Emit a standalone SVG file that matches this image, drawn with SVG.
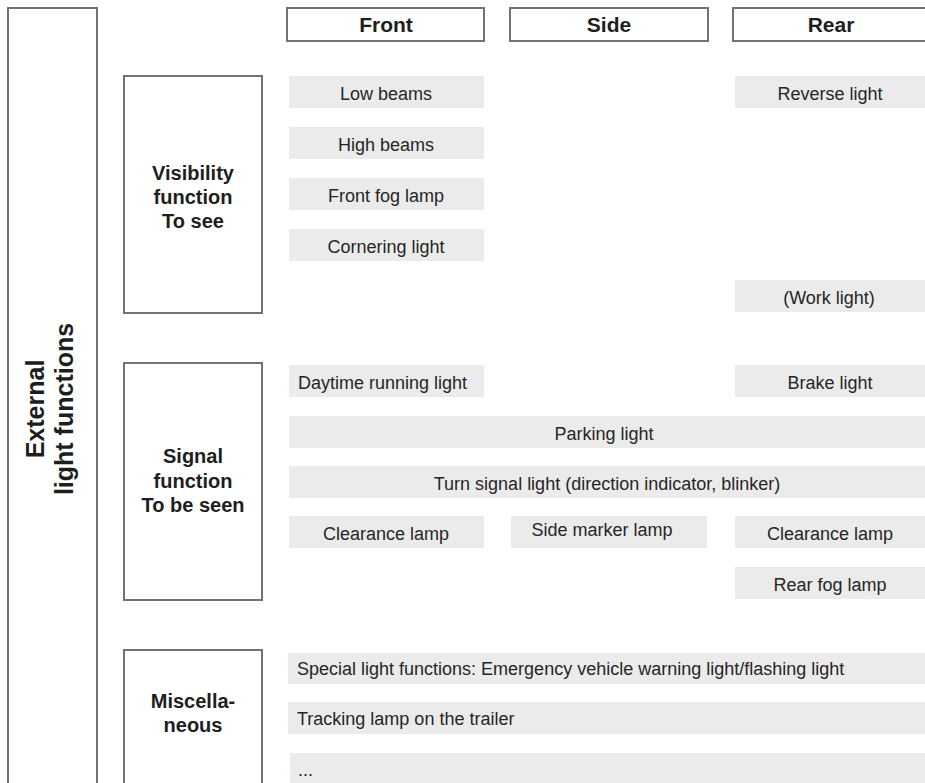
<svg xmlns="http://www.w3.org/2000/svg" width="925" height="783" viewBox="0 0 925 783">
<style>
.frame{fill:#fff;stroke:#737373;stroke-width:2}
.item{fill:#ebebeb}
.t{font-family:"Liberation Sans",Arial,sans-serif;font-size:18px;fill:#262626}
.c{text-anchor:middle}
.b{font-family:"Liberation Sans",Arial,sans-serif;font-weight:bold;font-size:20px;fill:#1e1e1e;text-anchor:middle}
.h{font-family:"Liberation Sans",Arial,sans-serif;font-weight:bold;font-size:21px;fill:#1e1e1e;text-anchor:middle}
.big{font-family:"Liberation Sans",Arial,sans-serif;font-weight:bold;font-size:25px;fill:#1e1e1e;text-anchor:middle}
</style>
<rect width="925" height="783" fill="#fff"/>
<g id="external">
<rect class="frame" x="8" y="8" width="89" height="800"/>
<text class="big" transform="translate(44,409) rotate(-90)">External</text>
<text class="big" transform="translate(73,409) rotate(-90)">light functions</text>
</g>
<g id="header-front"><rect class="frame" x="287" y="8" width="197" height="33"/><text class="h" x="386" y="32">Front</text></g>
<g id="header-side"><rect class="frame" x="510" y="8" width="198" height="33"/><text class="h" x="609" y="32">Side</text></g>
<g id="header-rear"><rect class="frame" x="733" y="8" width="200" height="33"/><text class="h" x="831" y="32">Rear</text></g>
<g id="visibility">
<rect class="frame" x="124" y="76" width="138" height="237"/>
<text class="b" x="193" y="180">Visibility</text>
<text class="b" x="193" y="204">function</text>
<text class="b" x="193" y="228">To see</text>
</g>
<g id="signal">
<rect class="frame" x="124" y="363" width="138" height="237"/>
<text class="b" x="193" y="463">Signal</text>
<text class="b" x="193" y="488">function</text>
<text class="b" x="193" y="512">To be seen</text>
</g>
<g id="misc">
<rect class="frame" x="124" y="650" width="138" height="160"/>
<text class="b" x="193" y="708">Miscella-</text>
<text class="b" x="193" y="732">neous</text>
</g>
<g id="low-beams"><rect class="item" x="289" y="76" width="195" height="32"/><text class="t c" x="386" y="99.5">Low beams</text></g>
<g id="reverse-light"><rect class="item" x="735" y="76" width="190" height="32"/><text class="t c" x="830" y="99.5">Reverse light</text></g>
<g id="high-beams"><rect class="item" x="289" y="127" width="195" height="32"/><text class="t c" x="386" y="150.5">High beams</text></g>
<g id="front-fog"><rect class="item" x="289" y="178" width="195" height="32"/><text class="t c" x="386" y="201.5">Front fog lamp</text></g>
<g id="cornering"><rect class="item" x="289" y="229" width="195" height="32"/><text class="t c" x="386" y="252.5">Cornering light</text></g>
<g id="work-light"><rect class="item" x="735" y="280" width="190" height="32"/><text class="t c" x="829" y="303.5">(Work light)</text></g>
<g id="drl"><rect class="item" x="289" y="365" width="195" height="32"/><text class="t" x="298" y="388.5">Daytime running light</text></g>
<g id="brake"><rect class="item" x="735" y="365" width="190" height="32"/><text class="t c" x="830" y="388.5">Brake light</text></g>
<g id="parking"><rect class="item" x="289" y="416" width="636" height="32"/><text class="t c" x="604" y="439.5">Parking light</text></g>
<g id="turn"><rect class="item" x="289" y="466" width="636" height="32"/><text class="t c" x="607" y="489.5">Turn signal light (direction indicator, blinker)</text></g>
<g id="clearance-front"><rect class="item" x="289" y="516" width="195" height="32"/><text class="t c" x="386" y="539.5">Clearance lamp</text></g>
<g id="side-marker"><rect class="item" x="511" y="516" width="196" height="32"/><text class="t c" x="602" y="536">Side marker lamp</text></g>
<g id="clearance-rear"><rect class="item" x="735" y="516" width="190" height="32"/><text class="t c" x="830" y="539.5">Clearance lamp</text></g>
<g id="rear-fog"><rect class="item" x="735" y="567" width="190" height="32"/><text class="t c" x="830" y="590.5">Rear fog lamp</text></g>
<g id="special"><rect class="item" x="288" y="653" width="637" height="31"/><text class="t" x="297" y="675">Special light functions: Emergency vehicle warning light/flashing light</text></g>
<g id="tracking"><rect class="item" x="288" y="702" width="637" height="32"/><text class="t" x="297" y="725">Tracking lamp on the trailer</text></g>
<g id="more"><rect class="item" x="290" y="753" width="635" height="40"/><text class="t" x="298" y="776">...</text></g>
<g id="connectors"/>
</svg>
